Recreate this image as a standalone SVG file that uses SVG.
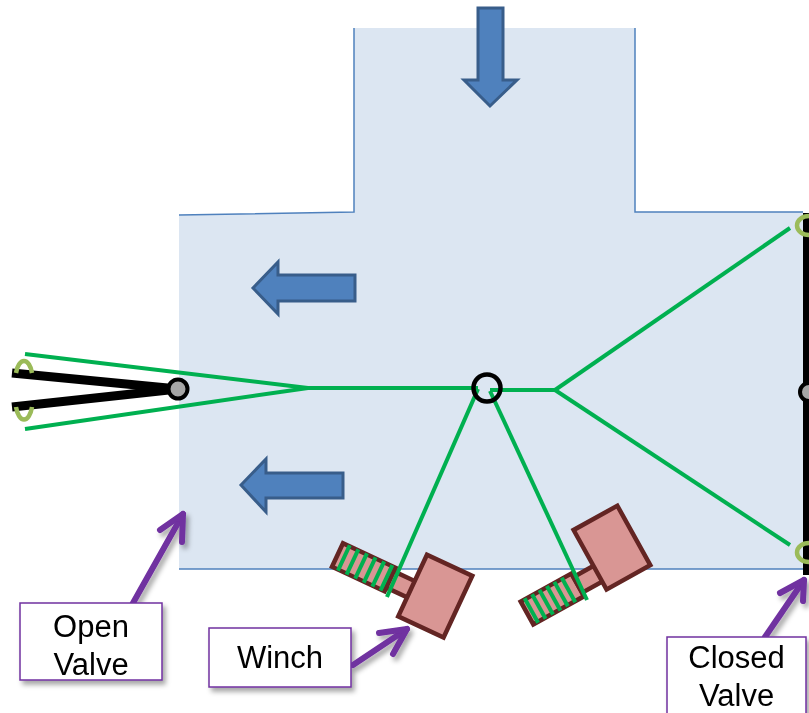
<svg xmlns="http://www.w3.org/2000/svg" width="809" height="713" viewBox="0 0 809 713">
  <defs>
    <style>
      .tank { fill: #dce6f2; }
      .edge { fill: none; stroke: #4f81bd; stroke-width: 1.5; }
      .flow { fill: #4f81bd; stroke: #385d8a; stroke-width: 3; stroke-linejoin: miter; }
      .rope { fill: none; stroke: #00b050; stroke-width: 4; stroke-linecap: butt; }
      .hook { fill: none; stroke: #9bbb59; stroke-width: 4.5; }
      .gate { fill: none; stroke: #000; stroke-width: 9; stroke-linecap: butt; }
      .pin { fill: #a6a6a6; stroke: #000; stroke-width: 4; }
      .winch { fill: #d99694; stroke: #632523; stroke-width: 4.5; stroke-linejoin: miter; }
      .thread { stroke: #00b050; stroke-width: 4; }
      .callout { fill: #fff; stroke: #7030a0; stroke-width: 1.5; }
      .pointer { fill: none; stroke: #7030a0; stroke-width: 6; stroke-linecap: round; stroke-linejoin: round; }
      .label { font-family: "Liberation Sans", Arial, sans-serif; font-size: 31px; fill: #000; text-anchor: middle; }
    </style>
    <filter id="shadow" x="-20%" y="-20%" width="150%" height="150%">
      <feDropShadow dx="3" dy="4" stdDeviation="2.5" flood-color="#000" flood-opacity="0.35"/>
    </filter>
    <!-- threaded drum and neck of a winch, axis along +x -->
    <g id="winch-shaft">
      <rect class="winch" x="0" y="-13" width="58" height="26"/>
      <rect class="winch" x="58" y="-9" width="24" height="18"/>
    </g>
  </defs>

  <!-- tank outline -->
  <g id="tank">
    <polygon class="tank" points="179,215 354,212 354,28 635,28 635,212 803,212 803,569 179,569"/>
    <polyline class="edge" points="179,215 354,212 354,28"/>
    <polyline class="edge" points="635,28 635,212 803,212"/>
    <line class="edge" x1="179" y1="569" x2="803" y2="569"/>
  </g>

  <!-- flow arrows -->
  <g id="flow-in">
    <polygon class="flow" points="478,8 503,8 503,80 517,80 490,106 464,80 478,80"/>
  </g>
  <g id="flow-left-upper">
    <polygon class="flow" points="355,275 278,275 278,262 253,288 278,314 278,301 355,301"/>
  </g>
  <g id="flow-left-lower">
    <polygon class="flow" points="343,473 266,473 266,459 241,485 266,512 266,498 343,498"/>
  </g>

  <!-- closed valve on the right wall -->
  <g id="closed-valve">
    <rect x="803" y="213" width="8" height="362" fill="#000"/>
    <circle class="pin" cx="809" cy="392" r="9"/>
    <path class="hook" d="M 809 216 A 12 9.5 0 0 0 809 235"/>
    <path class="hook" d="M 809 543 A 12 9.5 0 0 0 809 562"/>
  </g>

  <!-- open valve on the left -->
  <g id="open-valve">
    <line class="gate" x1="12" y1="373" x2="178" y2="389"/>
    <line class="gate" x1="12" y1="407" x2="178" y2="389"/>
    <circle class="pin" cx="178" cy="389" r="9.5"/>
    <path class="hook" d="M 16 373 A 8.5 18 0 0 1 32 373"/>
    <path class="hook" d="M 16 407 A 8.5 19 0 0 0 32 407"/>
  </g>

  <!-- winches -->
  <g id="winch-left" transform="translate(337.5,555) rotate(25)">
    <use href="#winch-shaft"/>
    <g class="thread">
      <line x1="7" y1="-14" x2="7" y2="14"/>
      <line x1="16.5" y1="-14" x2="16.5" y2="14"/>
      <line x1="26" y1="-14" x2="26" y2="14"/>
      <line x1="35.5" y1="-14" x2="35.5" y2="14"/>
      <line x1="45" y1="-14" x2="45" y2="14"/>
      <line x1="54" y1="-14" x2="54" y2="14"/>
    </g>
    <rect class="winch" x="81" y="-38" width="50" height="68"/>
  </g>
  <g id="winch-right" transform="translate(527,613) rotate(-29)">
    <use href="#winch-shaft"/>
    <g class="thread">
      <line x1="5" y1="-14" x2="5" y2="14"/>
      <line x1="13.5" y1="-14" x2="13.5" y2="14"/>
      <line x1="22" y1="-14" x2="22" y2="14"/>
      <line x1="30.5" y1="-14" x2="30.5" y2="14"/>
      <line x1="39" y1="-14" x2="39" y2="14"/>
      <line x1="47.5" y1="-14" x2="47.5" y2="14"/>
    </g>
    <rect class="winch" x="81" y="-50" width="50" height="68"/>
  </g>

  <!-- cables -->
  <g id="cables">
    <line class="rope" x1="25" y1="354" x2="308" y2="388"/>
    <line class="rope" x1="25" y1="429" x2="308" y2="388"/>
    <line class="rope" x1="308" y1="388" x2="478" y2="388"/>
    <line class="rope" x1="478" y1="389" x2="387" y2="597"/>
    <line class="rope" x1="490" y1="391" x2="587" y2="600"/>
    <line class="rope" x1="490" y1="390" x2="555" y2="390"/>
    <line class="rope" x1="555" y1="390" x2="790" y2="228"/>
    <line class="rope" x1="555" y1="390" x2="790" y2="545"/>
  </g>

  <!-- central ring joining the cables -->
  <g id="hub">
    <circle cx="487" cy="388" r="13.5" fill="none" stroke="#000" stroke-width="4.5"/>
  </g>

  <!-- callouts -->
  <g id="callout-open-valve" filter="url(#shadow)">
    <polyline class="pointer" points="133,603 183,514"/>
    <polyline class="pointer" points="160,530 183,514 182,542"/>
    <rect class="callout" x="20" y="603" width="142" height="77"/>
    <text class="label" x="91" y="637">Open</text>
    <text class="label" x="91" y="675">Valve</text>
  </g>
  <g id="callout-winch" filter="url(#shadow)">
    <polyline class="pointer" points="353,665 407,629"/>
    <polyline class="pointer" points="379,633 407,629 393,654"/>
    <rect class="callout" x="209" y="628" width="142" height="59"/>
    <text class="label" x="280" y="668">Winch</text>
  </g>
  <g id="callout-closed-valve" filter="url(#shadow)">
    <polyline class="pointer" points="765,637 804,580"/>
    <polyline class="pointer" points="780,593 804,580 803,601"/>
    <rect class="callout" x="667" y="637" width="139" height="80"/>
    <text class="label" x="736.5" y="668">Closed</text>
    <text class="label" x="736.5" y="706">Valve</text>
  </g>
</svg>
